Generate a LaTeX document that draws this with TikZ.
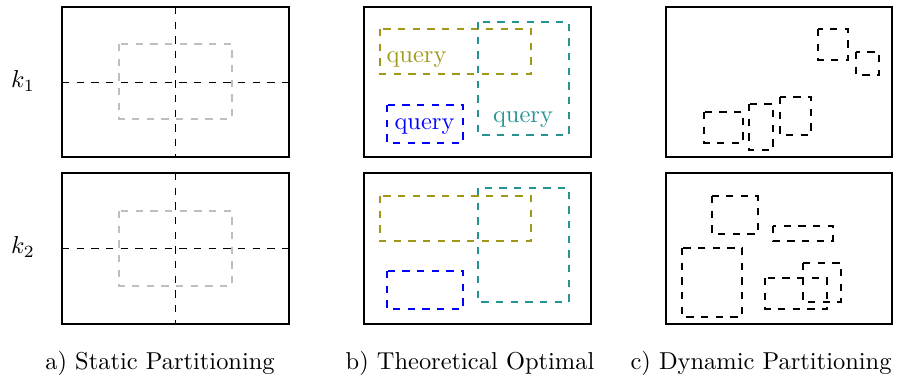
\documentclass[tikz,border=0pt]{standalone}
\usepackage{xcolor}
\colorlet{qolive}{olive!85}
\colorlet{qteal}{teal!85}
\begin{document}
\begin{tikzpicture}[x=0.409pt,y=-0.409pt,
  frame/.style={draw=black,line width=0.8pt},
  grid/.style={draw=black,dashed,line width=0.4pt},
  qbox/.style={dashed,line width=0.5pt},
  lbl/.style={inner sep=0pt,anchor=base},
  captxt/.style={inner sep=0pt,anchor=base}]
\useasboundingbox (0,0) rectangle (897,375);
% ---- a) static partitioning
\draw[qbox,draw=black!25] (119,44) rectangle (232,119);
\draw[qbox,draw=black!25] (119,211) rectangle (232,286);
\draw[grid] (62,82) -- (289,82);
\draw[grid] (175.5,7) -- (175.5,157);
\draw[grid] (62,248.5) -- (289,248.5);
\draw[grid] (175.5,173) -- (175.5,324);
\draw[frame] (62,7) rectangle (289,157);
\draw[frame] (62,173) rectangle (289,324);
\node[lbl] (k1) at (23,88) {$k_1$};
\node[lbl] (k2) at (23,254) {$k_2$};
% ---- b) theoretical optimal
\draw[frame] (364,7) rectangle (591,157);
\draw[frame] (364,173) rectangle (591,324);
\draw[qbox,draw=qolive] (380,29) rectangle (531,74);
\draw[qbox,draw=qteal] (478,22) rectangle (569,135);
\draw[qbox,draw=blue] (387,105) rectangle (463,143);
\node[lbl,text=qolive] (q1) at (416.5,63) {query};
\node[lbl,text=blue] (q2) at (424.5,130) {query};
\node[lbl,text=qteal] (q3) at (523,123) {query};
\draw[qbox,draw=qolive] (380,196) rectangle (531,241);
\draw[qbox,draw=qteal] (478,188) rectangle (569,302);
\draw[qbox,draw=blue] (387,271) rectangle (463,309);
% ---- c) dynamic partitioning
\draw[frame] (666,7) rectangle (892,157);
\draw[frame] (666,173) rectangle (892,324);
\draw[qbox,draw=black] (818,29) rectangle (848,60);
\draw[qbox,draw=black] (856,52) rectangle (879,75);
\draw[qbox,draw=black] (704,112) rectangle (743,143);
\draw[qbox,draw=black] (749,104) rectangle (773,150);
\draw[qbox,draw=black] (780,97) rectangle (811,135);
\draw[qbox,draw=black] (712,196) rectangle (758,234);
\draw[qbox,draw=black] (773,226) rectangle (833,241);
\draw[qbox,draw=black] (682,248) rectangle (742,317);
\draw[qbox,draw=black] (765,278) rectangle (827,309);
\draw[qbox,draw=black] (803,263) rectangle (841,302);
% ---- captions
\node[captxt] (ca) at (160,369) {a) Static Partitioning};
\node[captxt] (cb) at (470,369) {b) Theoretical Optimal};
\node[captxt] (cc) at (761,369) {c) Dynamic Partitioning};
\end{tikzpicture}
\end{document}
